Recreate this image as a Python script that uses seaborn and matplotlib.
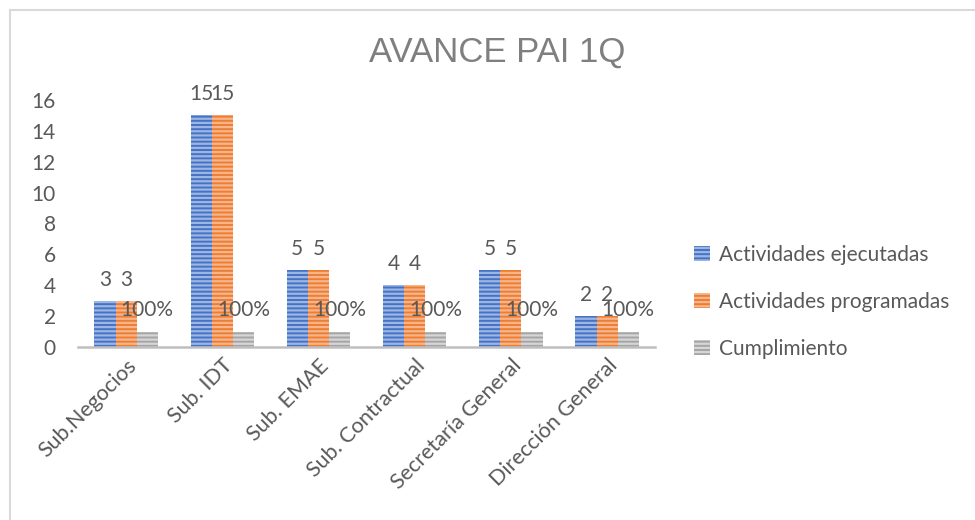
import matplotlib
matplotlib.use('Agg')
import matplotlib.pyplot as plt
import matplotlib.patches as mpatches
from matplotlib.lines import Line2D
import seaborn as sns
import pandas as pd

# Datos del gráfico
areas = ['Sub.Negocios', 'Sub. IDT', 'Sub. EMAE', 'Sub. Contractual',
         'Secretaría General', 'Dirección General']
ejecutadas = [3, 15, 5, 4, 5, 2]
programadas = [3, 15, 5, 4, 5, 2]
cumplimiento = [1, 1, 1, 1, 1, 1]
series = ['Actividades ejecutadas', 'Actividades programadas', 'Cumplimiento']

colores = ['#4472C4', '#ED7D31', '#A5A5A5']
rayas = ['#9DB5E3', '#F6B58C', '#D6D6D6']

df = pd.DataFrame({
    'area': areas * 3,
    'serie': [series[0]] * 6 + [series[1]] * 6 + [series[2]] * 6,
    'valor': ejecutadas + programadas + cumplimiento,
})

sns.set_style('white')
plt.rcParams['font.family'] = ['Lato', 'DejaVu Sans']
plt.rcParams['hatch.linewidth'] = 1.6
texto = '#595959'

fig = plt.figure(figsize=(9.75, 5.2), dpi=100)
ax = fig.add_axes([0.08, 0.3327, 0.592, 0.475])

sns.barplot(data=df, x='area', y='valor', hue='serie', hue_order=series,
            palette=colores, width=0.66, ax=ax, legend=False, saturation=1)

# rayado horizontal como en Excel
for cont, rc in zip(ax.containers, rayas):
    for p in cont:
        p.set_hatch('----')
        p.set_edgecolor(rc)
        p.set_linewidth(0)

# etiquetas de datos
ax.bar_label(ax.containers[0], labels=[str(v) for v in ejecutadas],
             padding=8, fontsize=15, color=texto)
ax.bar_label(ax.containers[1], labels=[str(v) for v in programadas],
             padding=8, fontsize=15, color=texto)
ax.bar_label(ax.containers[2], labels=[f'{v:.0%}' for v in cumplimiento],
             padding=8, fontsize=15, color=texto)

ax.set_ylim(0, 16)
ax.set_yticks(range(0, 17, 2))
ax.set_xlabel('')
ax.set_ylabel('')
ax.tick_params(axis='y', length=0, pad=16, labelsize=15, labelcolor=texto)
ax.tick_params(axis='x', length=0, pad=6, labelsize=15.5, labelcolor=texto)
plt.setp(ax.get_xticklabels(), rotation=45, ha='right', rotation_mode='anchor')

for s in ['top', 'right', 'left']:
    ax.spines[s].set_visible(False)
ax.spines['bottom'].set_color('#BFBFBF')
ax.spines['bottom'].set_linewidth(1.8)

# leyenda
handles = [mpatches.Patch(facecolor=c, edgecolor=r, hatch='----', linewidth=0, label=s)
           for c, r, s in zip(colores, rayas, series)]
fig.legend(handles=handles, loc='center left', bbox_to_anchor=(0.712, 0.42),
           frameon=False, fontsize=15, labelcolor=texto, handlelength=0.75,
           handleheight=0.75, handletextpad=0.45, labelspacing=1.3,
           borderpad=0, borderaxespad=0)

fig.text(0.51, 0.899, 'AVANCE PAI 1Q', ha='center', va='center', fontsize=25,
         color='#7F7F7F', family=['Liberation Sans', 'DejaVu Sans'])

# marco del área del gráfico
fig.add_artist(Line2D([10 / 975, 1.0], [1 - 10 / 520, 1 - 10 / 520],
                      transform=fig.transFigure, color='#D9D9D9', lw=1.5))
fig.add_artist(Line2D([10 / 975, 10 / 975], [0, 1 - 10 / 520],
                      transform=fig.transFigure, color='#D9D9D9', lw=1.5))

fig.savefig('out.png', dpi=100)
